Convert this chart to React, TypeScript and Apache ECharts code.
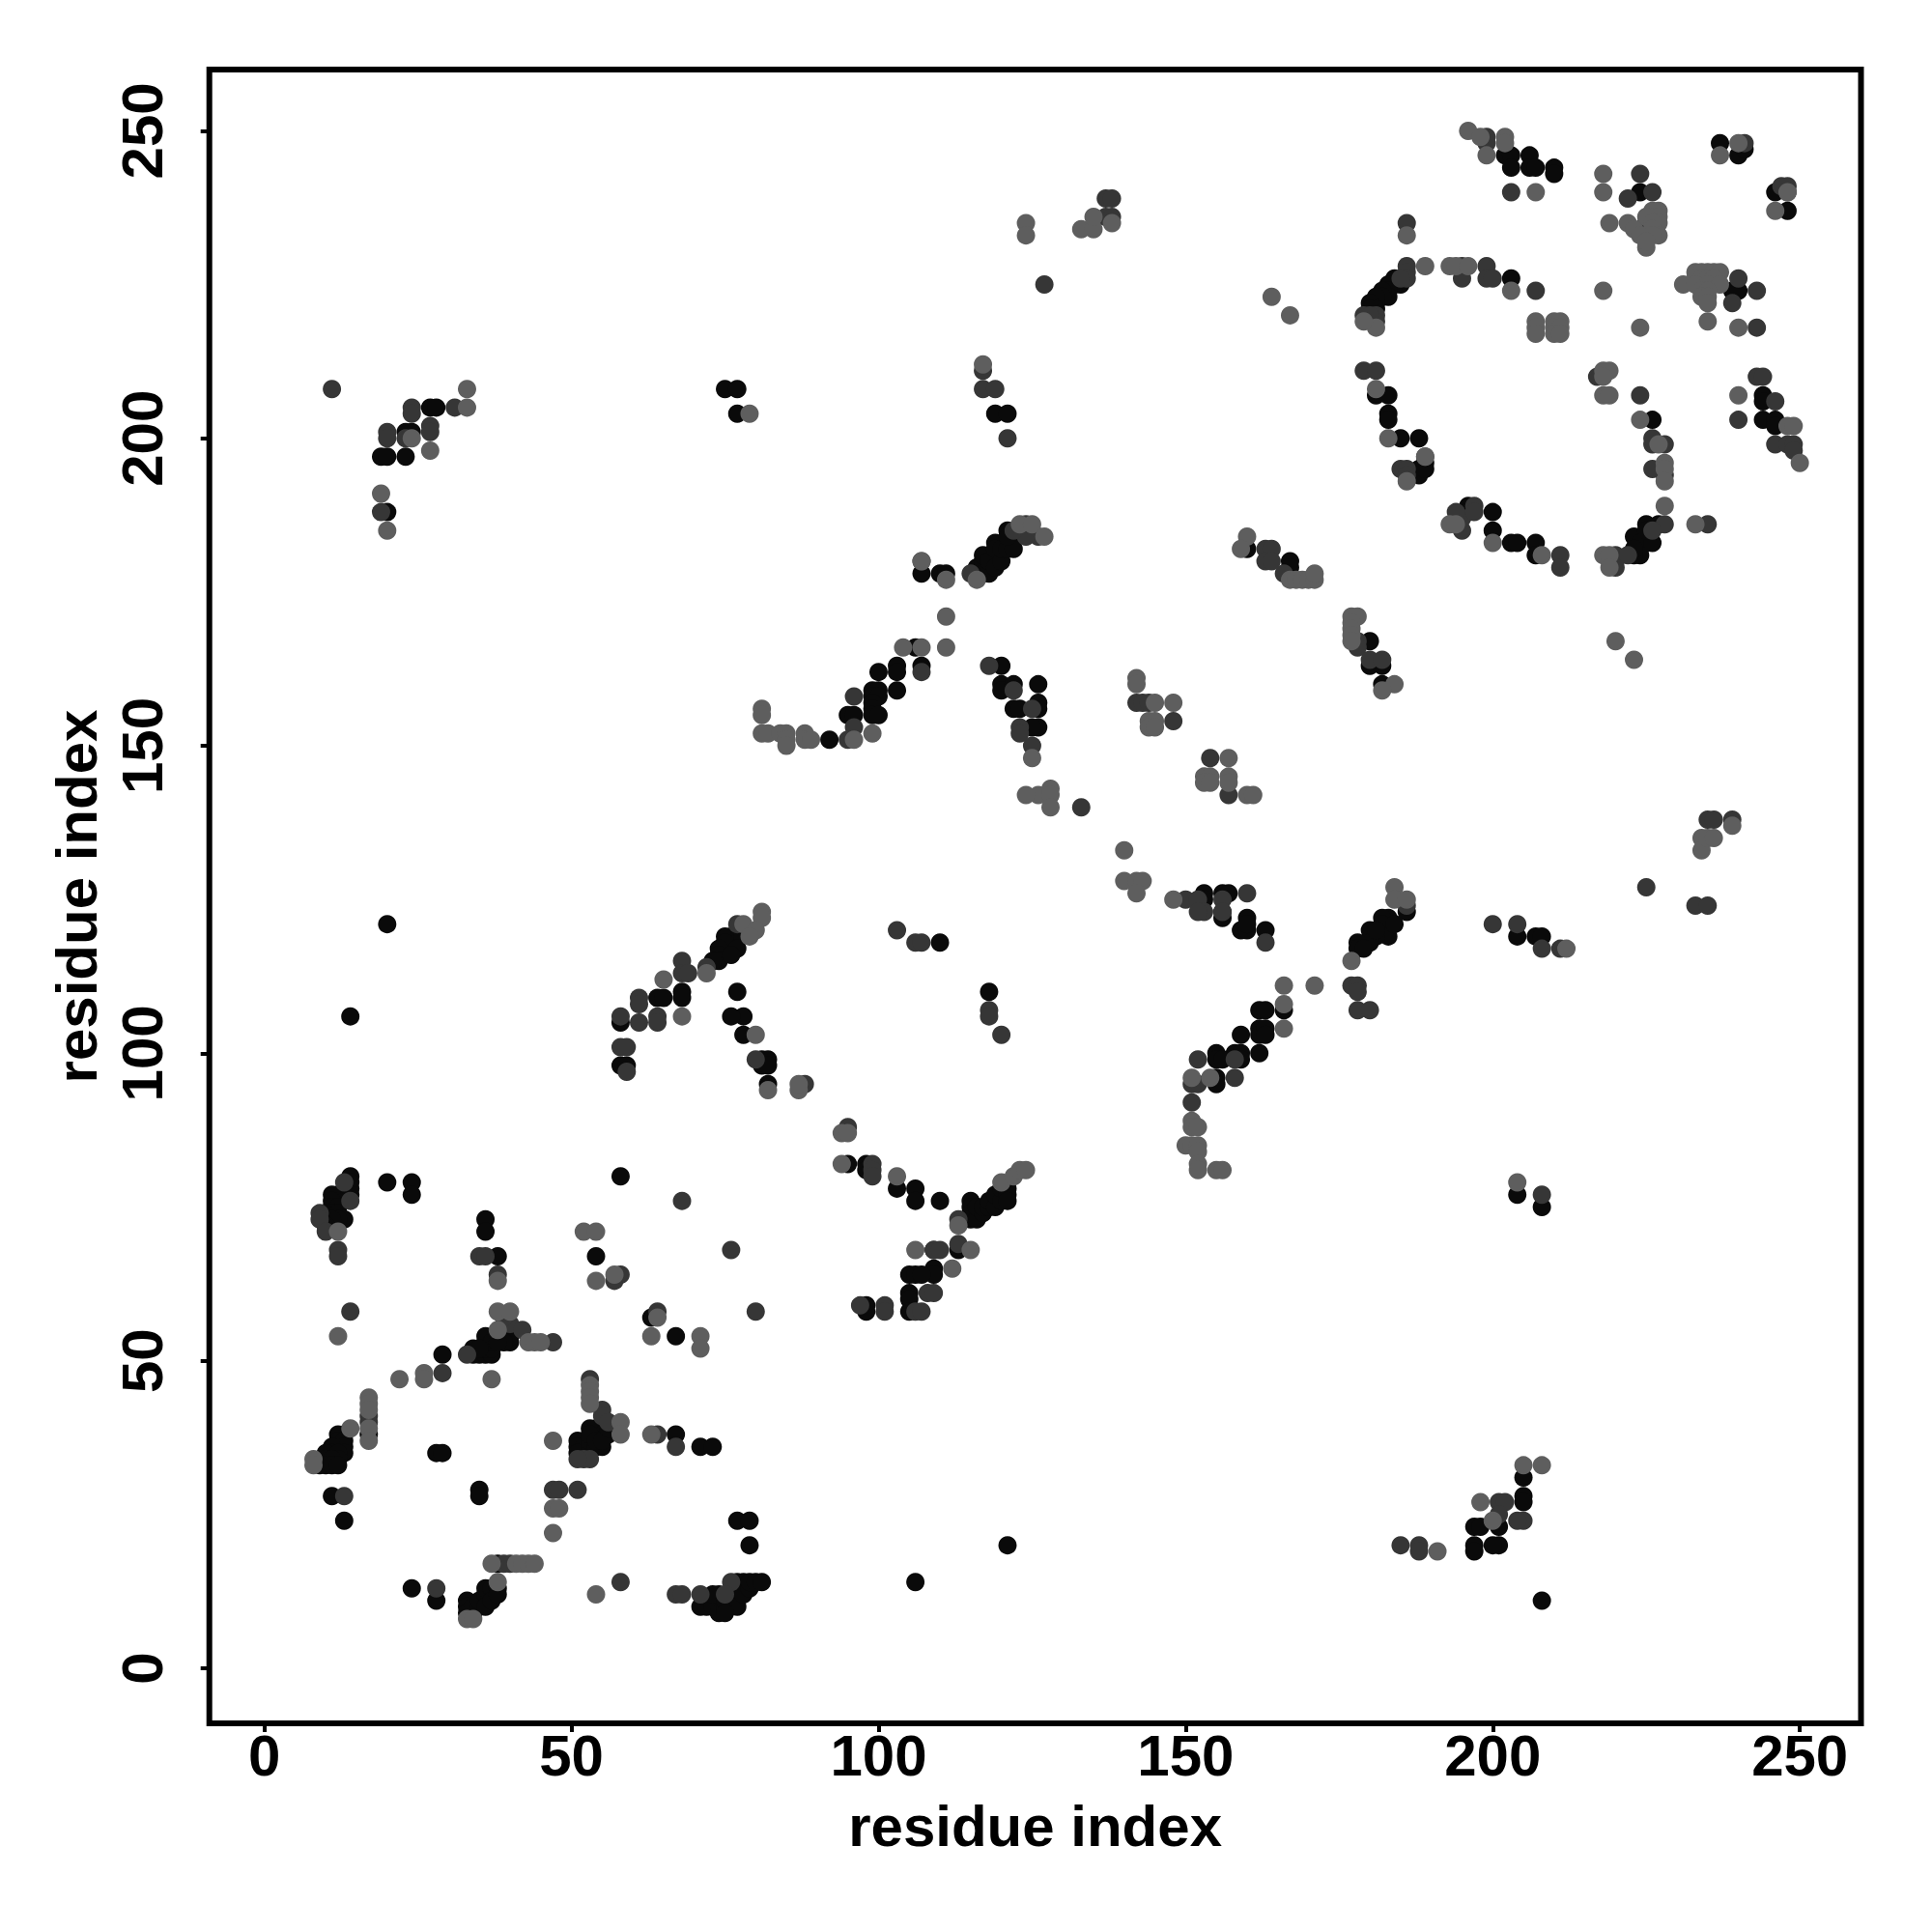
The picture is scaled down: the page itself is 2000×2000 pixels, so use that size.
import React, { useEffect, useRef } from "react";
import * as echarts from "echarts";

const tickValues = [0, 50, 100, 150, 200, 250];
const axisTitle = "residue index";

const blackPoints = [
  [14,80],[14,79],[14,78],[14,77],[12,77],[12,76],[11,77],[11,76],[11,75],[12,75],[10,74],[11,74],[12,74],[13,73],[12,73],[11,73],[10,72],
  [20,79],[24,79],[24,77],[36,73],[36,71],[38,67],[54,67],[58,80],[20,121],[14,106],[63,57],[67,54],[29,51],
  [34,51],[35,51],[36,51],[37,51],[34,52],[36,52],[37,52],[36,53],[36,54],[38,54],[39,54],[39,55],[40,53],[40,54],[39,53],[37,53],[35,52],[38,53],
  [17,38],[13,38],[12,38],[12,37],[13,37],[13,36],[13,35],[11,36],[11,35],[10,35],[10,34],[12,35],[12,34],[11,34],[9,33],[10,33],[11,33],[12,33],
  [53,39],[54,39],[55,38],[56,38],[51,37],[51,36],[52,36],[52,35],[51,35],[53,36],[53,37],[54,36],[55,36],[53,38],[54,37],[55,37],[56,39],
  [67,38],[71,36],[73,36],[28,35],[29,35],[35,29],[35,28],[11,28],[13,24],[77,24],[79,24],[79,20],[38,17],[24,13],[28,11],
  [71,10],[72,10],[73,11],[73,10],[74,9],[75,10],[74,12],[73,12],[75,11],[76,11],[76,12],[77,10],[77,13],[77,14],[78,14],[78,12],[79,13],[79,14],[80,14],[81,14],[75,9],
  [33,11],[33,10],[33,9],[34,9],[34,10],[35,10],[35,11],[36,12],[36,13],[37,13],[36,10],[38,13],[37,11],[38,12],
  [110,118],[118,110],[77,110],[78,106],[76,106],[78,103],[81,99],[82,99],[81,98],[82,98],[82,95],[95,82],[98,82],[98,81],[103,78],[106,78],[106,76],[110,76],
  [115,76],[115,75],[115,74],[115,73],[116,73],[116,75],[117,74],[117,75],[118,75],[118,76],[119,75],[119,77],[120,76],[120,78],[121,78],[121,77],[121,76],
  [109,68],[113,68],[109,65],[109,64],[105,64],[106,64],[107,64],[105,61],[105,60],[105,58],[98,59],[98,58],
  [153,126],[153,125],[156,126],[157,126],[156,123],[156,122],[160,122],[159,120],[160,120],[160,121],[163,120],
  [166,107],[162,107],[163,107],[162,104],[162,103],[163,104],[163,103],[159,103],[162,100],[158,100],[159,100],[159,99],[155,100],[155,99],[156,99],[155,96],[155,95],
  [107,178],[110,178],[111,178],[116,179],[116,178],[117,180],[117,178],[117,181],[118,178],[118,180],[119,183],[119,182],[119,179],[120,180],[120,182],[121,182],[121,185],[122,184],[122,182],[121,184],
  [106,166],[107,163],[103,163],[103,162],[100,162],[103,159],[99,159],[100,159],[99,158],[100,158],[99,157],[99,156],[99,155],[100,155],[95,155],[96,155],[92,151],
  [120,163],[126,160],[120,160],[120,159],[122,160],[126,157],[126,156],[122,156],[123,156],[126,153],[125,153],
  [160,182],[167,180],[167,179],[180,167],[180,163],[182,163],[182,160],
  [203,226],[207,183],[207,181],[203,183],[204,183],[200,188],[200,185],[196,189],[196,188],[223,184],[225,183],[224,183],[226,183],[225,186],[227,186],[224,181],[223,181],[223,182],[225,185],
  [202,246],[203,246],[203,244],[206,246],[206,244],[207,244],[210,244],[210,243],[224,240],[237,248],[240,246],[241,247],[246,240],[248,237],[239,224],[240,224],
  [185,225],[184,225],[184,226],[183,225],[183,224],[183,223],[182,224],[182,223],[181,222],[181,223],[180,222],[181,221],[180,221],
  [181,207],[183,207],[183,204],[183,203],[185,200],[188,200],[188,195],[188,194],[189,196],[189,195],[226,203],[244,207],[244,206],[244,203],[246,203],[246,202],
  [75,208],[77,208],[77,204],[119,204],[121,204],[27,205],[28,205],[23,201],[24,201],[23,197],[19,197],[20,197],[20,188],
  [76,119],[77,119],[75,119],[75,118],[77,117],[74,117],[74,116],[74,115],[73,115],[76,116],[68,110],[68,109],[64,109],[65,109],[58,105],[58,98],[59,98],
  [186,123],[183,122],[182,122],[182,121],[183,119],[180,120],[181,119],[180,118],[178,118],[178,117],[179,117],[184,121],[181,120],
  [197,23],[197,20],[197,19],[198,23],[201,23],[201,20],[200,20],[205,31],[205,28],[205,27],[208,11],[106,14],[121,20],[204,77],[208,75],[204,119],[207,119],[208,119],
];

const darkPoints = [
  [13,79],[14,76],[9,74],[9,73],[10,71],[12,68],[12,67],[35,67],[36,67],[38,64],[57,63],[58,64],[68,76],[76,68],[14,58],[64,58],[80,58],[29,48],
  [40,56],[39,57],[42,55],[47,53],[33,51],[17,41],[17,40],[47,29],[51,29],[48,29],[13,28],
  [53,47],[55,42],[55,41],[56,40],[52,34],[53,34],[51,34],[64,38],[67,36],[39,17],[40,17],[28,13],[58,14],[67,12],[68,12],[71,12],[76,14],[75,12],
  [103,120],[106,118],[107,118],[118,107],[118,106],[120,103],[80,99],[88,95],[95,88],[99,82],[99,81],[99,80],[113,73],[109,68],[110,68],[113,69],[108,61],[109,61],[106,58],[107,58],[97,59],[101,59],[101,58],
  [150,125],[152,125],[153,123],[152,123],[156,125],[160,126],[163,118],[152,99],[151,95],[152,95],[158,96],[151,92],[156,123],[158,99],
  [107,180],[115,178],[124,186],[126,184],[124,184],[122,185],[107,162],[96,158],[96,153],[95,151],[118,163],[122,159],[125,156],[123,153],[123,152],[125,150],
  [142,157],[143,157],[144,157],[148,154],[154,148],[157,142],[133,140],[163,182],[164,182],[163,180],[164,180],[166,178],[178,167],[178,166],[180,164],[182,164],
  [199,249],[199,248],[203,240],[224,243],[222,239],[226,240],[225,235],[241,248],[247,241],[248,241],[248,240],[137,236],[138,236],[137,239],[138,239],[186,235],[186,228],[186,227],[186,226],[185,226],
  [195,228],[195,226],[199,228],[199,226],[200,226],[207,224],[240,226],[243,224],[239,222],[243,218],[179,220],[181,220],[181,219],[180,220],
  [179,211],[181,211],[185,195],[186,195],[186,194],[189,197],[195,185],[195,187],[194,188],[197,189],[197,188],[211,181],[211,179],[220,181],[220,180],[220,179],[222,181],[228,186],[226,185],[235,186],
  [228,194],[226,195],[226,199],[228,199],[226,200],[224,207],[217,210],[243,210],[244,210],[240,203],[246,206],[246,199],[248,199],[249,199],[249,198],
  [11,208],[31,205],[24,205],[24,204],[27,202],[27,201],[20,201],[20,200],[23,200],[19,188],[121,200],[117,211],[117,208],[119,208],
  [77,121],[72,114],[68,115],[68,113],[69,113],[61,109],[61,108],[64,106],[64,105],[61,105],[58,106],[58,101],[59,101],[59,97],
  [186,124],[177,111],[178,111],[178,110],[178,107],[180,107],[200,121],[204,121],[208,117],[211,117],[225,127],[233,124],[235,124],[235,138],[236,138],[239,138],
  [185,20],[188,20],[188,19],[201,27],[202,27],[201,25],[208,77],[205,24],[204,24],[127,225],
];

const greyPoints = [
  [12,71],[38,63],[52,71],[54,71],[54,63],[57,64],[12,54],[64,57],[63,54],[71,54],[71,52],[22,47],[26,48],[26,47],
  [38,58],[40,58],[38,55],[43,53],[44,53],[45,53],[37,47],[17,44],[17,43],[17,42],[17,39],[17,37],[14,39],[8,34],[8,33],
  [47,37],[53,46],[53,45],[53,44],[53,43],[58,40],[58,38],[63,38],[47,26],[48,26],[47,22],[37,17],[41,17],[42,17],[43,17],[44,17],[54,12],[38,14],[33,8],[34,8],
  [81,123],[81,122],[80,103],[82,94],[87,94],[87,95],[94,87],[95,87],[94,82],[103,80],[113,72],[120,79],[122,80],[123,81],[124,81],[106,68],[115,68],[112,65],
  [140,128],[142,128],[143,128],[142,126],[148,125],[166,111],[171,111],[166,108],[166,104],[151,96],[154,96],[151,89],[151,88],[152,88],[150,85],[151,85],[152,85],[152,84],[152,82],[152,81],[155,81],[156,81],
  [107,180],[111,177],[116,177],[123,186],[125,186],[127,184],[111,171],[104,166],[107,166],[111,166],[81,156],[81,155],[81,152],[82,152],[84,152],[85,152],[85,151],[85,150],[88,152],[88,151],[89,151],[96,151],[99,152],
  [125,148],[126,142],[128,143],[128,142],[128,140],[124,142],[142,161],[142,160],[145,157],[148,157],[144,154],[145,154],[144,153],[145,153],[157,148],[153,145],[154,145],[153,144],[154,144],[157,145],[157,144],[160,142],[161,142],[140,133],
  [160,184],[159,182],[167,177],[168,177],[169,177],[170,177],[171,177],[171,178],
  [177,171],[178,171],[177,170],[177,169],[177,168],[177,167],[184,160],[182,159],
  [196,250],[198,249],[199,246],[202,249],[202,248],[207,240],[218,243],[218,240],[227,237],[226,237],[226,236],[227,236],[225,236],[227,235],[226,235],[226,234],[227,233],[226,233],[225,231],[219,235],[222,235],[223,234],[224,233],[225,232],
  [240,248],[237,246],[248,240],[246,237],[186,233],[189,228],[193,228],[194,228],[196,228],[203,224],[218,224],[164,223],[167,220],[181,218],[179,219],
  [207,219],[207,218],[207,217],[210,219],[211,219],[210,218],[211,218],[210,217],[211,217],[224,218],
  [231,225],[233,227],[234,227],[235,227],[236,227],[237,227],[233,226],[234,226],[235,226],[236,226],[233,225],[235,225],[237,225],[234,224],[235,224],[234,223],[235,223],[235,222],[240,218],[235,219],
  [181,208],[183,200],[186,193],[189,197],[193,186],[194,186],[200,183],[208,181],[218,181],[219,181],[219,179],[228,189],[233,186],[228,196],[228,195],[228,193],[224,203],[227,199],
  [218,211],[219,211],[218,210],[218,207],[219,207],[240,207],[248,202],[249,202],[250,196],[220,167],[223,164],
  [33,208],[33,205],[24,200],[27,198],[19,191],[20,185],[79,204],[117,212],[124,235],[124,233],[133,234],[135,234],[135,236],[138,235],
  [78,121],[80,120],[79,119],[72,113],[65,112],[68,106],[184,127],[184,125],[186,125],[177,115],[212,117],[234,135],[234,133],[235,135],[236,135],[239,137],
  [191,19],[198,27],[200,24],[205,33],[208,33],[204,79],
];

const axisBase = {
  type: "value" as const,
  min: -8.96,
  max: 259.96,
  splitLine: { show: false },
  axisLine: { show: false, onZero: false },
  nameLocation: "middle" as const,
  nameMoveOverlap: false,
  name: axisTitle,
  nameTextStyle: { fontFamily: "Liberation Sans", fontWeight: "bold" as const, fontSize: 60, color: "#000" },
  axisTick: { show: true, length: 9, customValues: tickValues, lineStyle: { color: "#000", width: 4 } },
};

const labelStyle = { fontFamily: "Liberation Sans", fontWeight: "bold" as const, fontSize: 60, color: "#000", customValues: tickValues };

function scatter(data: number[][], color: string) {
  return { type: "scatter" as const, data, symbol: "circle", symbolSize: 19, itemStyle: { color, opacity: 1 }, silent: true };
}

export default function App() {
  const ref = useRef<HTMLDivElement>(null);
  useEffect(() => {
    const chart = echarts.init(ref.current!, null, { renderer: "svg" });
    chart.setOption({
      animation: false,
      backgroundColor: "#fff",
      grid: { show: true, left: 216.7, right: 2000 - 1926.5, top: 72, bottom: 2000 - 1784, borderColor: "#000", borderWidth: 6, backgroundColor: "transparent" },
      xAxis: { ...axisBase, nameGap: 76, axisLabel: { ...labelStyle, margin: 3 } },
      yAxis: { ...axisBase, nameGap: 107, axisLabel: { ...labelStyle, rotate: 90, margin: 39 } },
      series: [scatter(blackPoints, "#0a0a0a"), scatter(darkPoints, "#363636"), scatter(greyPoints, "#5e5e5e")],
    });
    return () => chart.dispose();
  }, []);
  return <div ref={ref} style={{ position: "absolute", left: 0, top: 0, width: 2000, height: 2000 }} />;
}
